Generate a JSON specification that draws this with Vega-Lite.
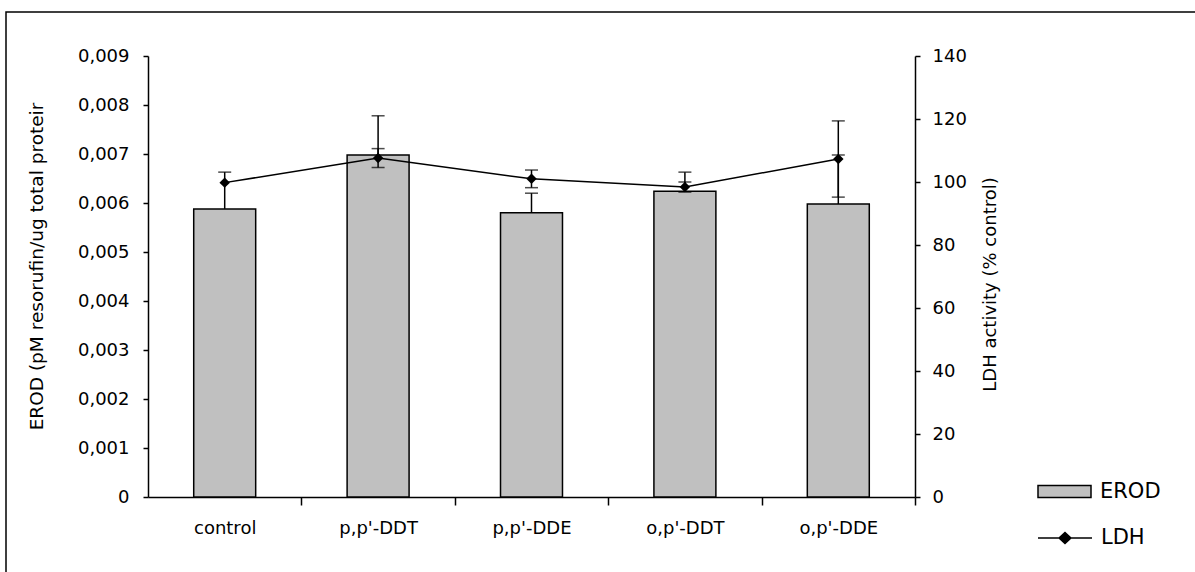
{
  "$schema": "https://vega.github.io/schema/vega-lite/v6.json",
  "width": 1200,
  "height": 575,
  "autosize": {"type": "none"},
  "padding": {"left": 6, "top": 12, "right": -11, "bottom": -15},
  "background": "white",
  "config": {
    "view": {"stroke": "black", "strokeWidth": 1.5},
    "font": "DejaVu Sans",
    "axis": {
      "grid": false,
      "domainColor": "black",
      "domainWidth": 1.5,
      "tickColor": "black",
      "tickWidth": 1.5,
      "tickSize": 5,
      "labelColor": "black",
      "labelFont": "DejaVu Sans",
      "labelFontSize": 18,
      "titleColor": "black",
      "titleFont": "DejaVu Sans",
      "titleFontSize": 18,
      "titleFontWeight": "normal"
    },
    "legend": {"labelFont": "DejaVu Sans", "labelColor": "black"}
  },
  "data": {
    "values": [
      {"group": "control", "EROD": 0.00588, "EROD_hi": 0.00663, "LDH": 99.8, "LDH_lo": null, "LDH_hi": null},
      {"group": "p,p'-DDT", "EROD": 0.00698, "EROD_hi": 0.00778, "LDH": 107.6, "LDH_lo": 104.6, "LDH_hi": 110.6},
      {"group": "p,p'-DDE", "EROD": 0.0058, "EROD_hi": 0.0062, "LDH": 101.0, "LDH_lo": 98.2, "LDH_hi": 103.8},
      {"group": "o,p'-DDT", "EROD": 0.00624, "EROD_hi": 0.00663, "LDH": 98.4, "LDH_lo": 96.8, "LDH_hi": 100.0},
      {"group": "o,p'-DDE", "EROD": 0.00598, "EROD_hi": 0.00698, "LDH": 107.3, "LDH_lo": 95.2, "LDH_hi": 119.4}
    ]
  },
  "encoding": {
    "x": {
      "field": "group",
      "type": "nominal",
      "sort": null,
      "scale": {"range": [142, 909], "paddingInner": 0.596, "paddingOuter": 0.298},
      "axis": {
        "title": null,
        "orient": "bottom",
        "offset": -90,
        "labelAngle": 0,
        "labelPadding": 14,
        "ticks": true,
        "tickSize": 8,
        "tickColor": "black",
        "tickWidth": 1.5,
        "tickOffset": 76.7,
        "labelOffset": -76.7,
        "encode": {"ticks": {"update": {"y": {"value": -4}}}}
      }
    }
  },
  "layer": [
    {
      "layer": [
        {
          "mark": {"type": "bar", "stroke": "black", "strokeWidth": 1.5},
          "encoding": {
            "y": {
              "field": "EROD",
              "type": "quantitative",
              "scale": {"domain": [0, 0.009], "range": [485, 44], "nice": false, "zero": true},
              "axis": {
                "orient": "left",
                "offset": -142,
                "values": [0, 0.001, 0.002, 0.003, 0.004, 0.005, 0.006, 0.007, 0.008, 0.009],
                "labelExpr": "datum.value === 0 ? '0' : replace(format(datum.value, '.3f'), '.', ',')",
                "labelPadding": 14,
                "title": "EROD (pM resorufin/ug total proteir",
                "titleX": -112,
                "titleY": 254,
                "titleAngle": -90,
                "titleBaseline": "middle",
                "titleAlign": "center",
                "titleFontSize": 18.5,
                "encode": {"ticks": {"update": {"x": {"value": 5}}}}
              }
            },
            "fill": {
              "datum": "EROD",
              "scale": {"range": ["#c0c0c0"]},
              "legend": {
                "title": null,
                "orient": "none",
                "legendX": 1031,
                "legendY": 452,
                "symbolType": "M-1,-0.23H1V0.23H-1Z",
                "symbolSize": 2809,
                "symbolStrokeColor": "black",
                "symbolStrokeWidth": 1.5,
                "labelFontSize": 21,
                "labelOffset": 8
              }
            }
          }
        },
        {
          "mark": {"type": "rule", "color": "black", "strokeWidth": 1.5},
          "encoding": {
            "y": {"field": "EROD", "type": "quantitative"},
            "y2": {"field": "EROD_hi"}
          }
        },
        {
          "mark": {"type": "tick", "color": "black", "thickness": 1.5, "size": 13, "orient": "horizontal"},
          "encoding": {
            "y": {"field": "EROD_hi", "type": "quantitative"}
          }
        }
      ]
    },
    {
      "layer": [
        {
          "mark": {"type": "rule", "color": "black", "strokeWidth": 1.5},
          "encoding": {
            "y": {
              "field": "LDH_lo",
              "type": "quantitative",
              "scale": {"domain": [0, 140], "range": [485, 44], "nice": false},
              "axis": {
                "orient": "right",
                "offset": -291,
                "values": [0, 20, 40, 60, 80, 100, 120, 140],
                "labelPadding": 12,
                "title": "LDH activity (% control)",
                "titleX": 75,
                "titleY": 272,
                "titleAngle": -90,
                "titleBaseline": "middle",
                "titleAlign": "center",
                "encode": {"ticks": {"update": {"x": {"value": -5}}}}
              }
            },
            "y2": {"field": "LDH_hi"}
          }
        },
        {
          "mark": {"type": "tick", "color": "black", "thickness": 1.5, "size": 13, "orient": "horizontal"},
          "encoding": {"y": {"field": "LDH_lo", "type": "quantitative"}}
        },
        {
          "mark": {"type": "tick", "color": "black", "thickness": 1.5, "size": 13, "orient": "horizontal"},
          "encoding": {"y": {"field": "LDH_hi", "type": "quantitative"}}
        },
        {
          "mark": {"type": "line", "color": "black", "strokeWidth": 1.5},
          "encoding": {"y": {"field": "LDH", "type": "quantitative"}}
        },
        {
          "mark": {"type": "point", "shape": "diamond", "filled": true, "size": 110, "opacity": 1},
          "encoding": {
            "y": {"field": "LDH", "type": "quantitative"},
            "color": {
              "datum": "LDH",
              "scale": {"range": ["black"]},
              "legend": {
                "title": null,
                "orient": "none",
                "legendX": 1031,
                "legendY": 498,
                "symbolType": "M-1,0H1M0,-0.2L0.22,0L0,0.2L-0.22,0Z",
                "symbolSize": 2916,
                "symbolStrokeColor": "black",
                "symbolFillColor": "black",
                "symbolStrokeWidth": 1.5,
                "symbolOpacity": 1,
                "labelFontSize": 21,
                "labelOffset": 8
              }
            }
          }
        }
      ]
    }
  ],
  "resolve": {"scale": {"y": "independent"}}
}
